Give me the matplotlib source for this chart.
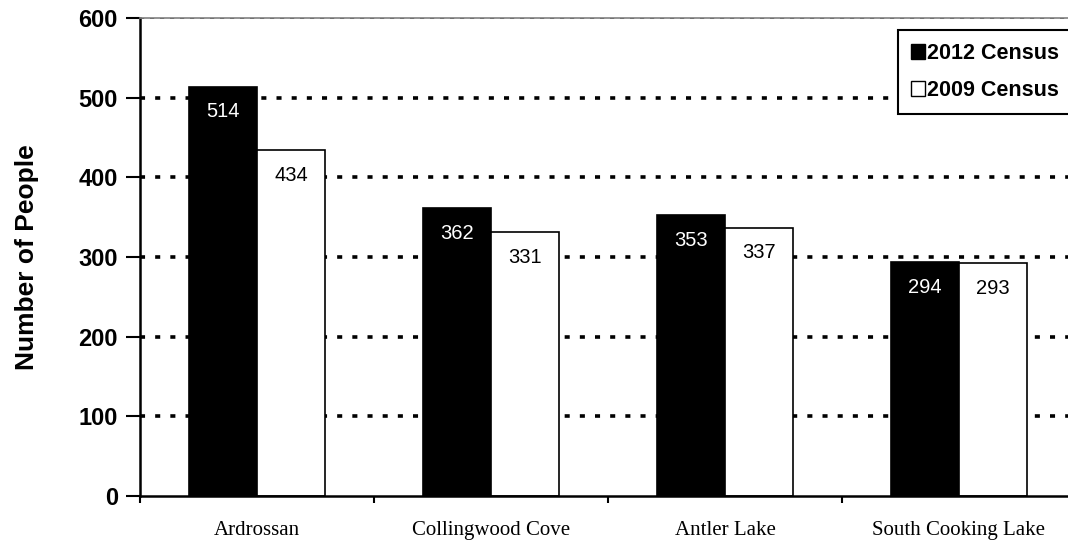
import numpy as np
import matplotlib
matplotlib.use('agg')
import matplotlib.pyplot as plt
from matplotlib.patches import Patch

places = ['Ardrossan', 'Collingwood Cove', 'Antler Lake', 'South Cooking Lake']
census_2012 = [514, 362, 353, 294]
census_2009 = [434, 331, 337, 293]
yticks = [0, 100, 200, 300, 400, 500, 600]

fig = plt.figure(figsize=(10.68, 5.41), dpi=100)
ax = fig.add_axes([140 / 1068, 45 / 541, 936 / 1068, 478 / 541])

x = np.arange(len(places)) + 0.5
w = 0.29
for yv in yticks[1:-1]:
    ax.axhline(yv, color='black', lw=2.6, ls=(0, (1.4, 2.8)), zorder=1)
ax.axhline(600, color='black', lw=1.2, ls=(0, (2.5, 3.5)), zorder=1)

b1 = ax.bar(x - w / 2, census_2012, w, color='black', edgecolor='black', lw=1.2, zorder=2)
b2 = ax.bar(x + w / 2, census_2009, w, color='white', edgecolor='black', lw=1.2, zorder=2)

for xi, v in zip(x - w / 2, census_2012):
    ax.text(xi, v - 20, str(v), color='white', ha='center', va='top',
            fontsize=14.5, family='Liberation Sans', zorder=3)
for xi, v in zip(x + w / 2, census_2009):
    ax.text(xi, v - 20, str(v), color='black', ha='center', va='top',
            fontsize=14.5, family='Liberation Sans', zorder=3)

ax.set_xlim(0, 4)
ax.set_ylim(0, 600)
ax.set_yticks(yticks)
ax.set_yticklabels([str(t) for t in yticks], fontsize=17, fontweight='bold',
                   family='Liberation Sans')
ax.set_xticks([0, 1, 2, 3, 4])
ax.set_xticklabels([])
ax.set_xticks(x, minor=True)
ax.set_xticklabels(places, minor=True, fontsize=15, family='Liberation Serif')
ax.tick_params(axis='x', which='minor', length=0, pad=18)
ax.tick_params(axis='x', which='major', length=5, width=1.5, direction='out')
ax.tick_params(axis='y', length=10, width=1.5, direction='out', pad=6)

for s in ['left', 'bottom']:
    ax.spines[s].set_linewidth(1.8)
ax.spines['top'].set_color('gray')
ax.spines['top'].set_linewidth(1.2)
ax.spines['right'].set_visible(False)

ax.set_ylabel('Number of People', fontsize=19, fontweight='bold',
              family='Liberation Sans', labelpad=28)

handles = [Patch(facecolor='black', edgecolor='black', label='2012 Census'),
           Patch(facecolor='white', edgecolor='black', label='2009 Census')]
leg = ax.legend(handles=handles, loc='upper left', bbox_to_anchor=(898 / 1068, 1 - 30 / 541),
                bbox_transform=fig.transFigure, frameon=True, fancybox=False,
                framealpha=1, facecolor='white',
                prop={'family': 'Liberation Sans', 'weight': 'bold', 'size': 15.5},
                handlelength=0.65, handleheight=0.65, handletextpad=0.12,
                labelspacing=0.75, borderpad=0.6, borderaxespad=0)
leg.get_frame().set_edgecolor('black')
leg.get_frame().set_linewidth(1.5)
leg.set_zorder(5)

fig.savefig('out.png', dpi=100)
